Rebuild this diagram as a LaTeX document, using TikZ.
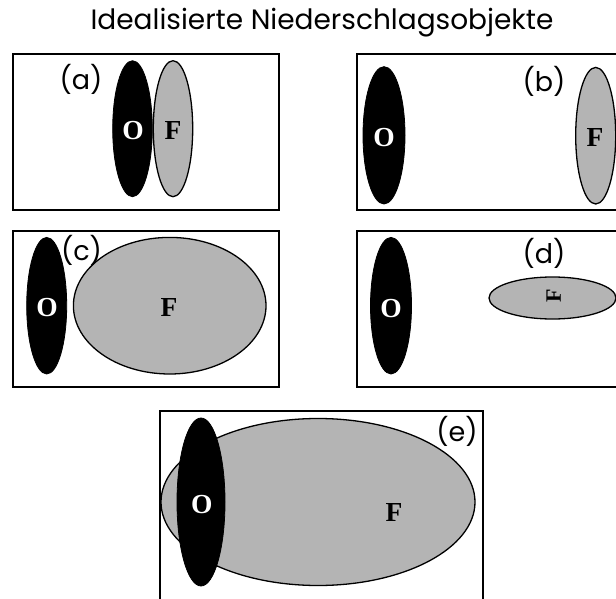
\documentclass[tikz,border=0pt]{standalone}
\usepackage{fontspec}
\setmainfont{Liberation Serif}
\newfontfamily\geo{Poppins}
\definecolor{fgray}{RGB}{180,180,180}
\begin{document}
\begin{tikzpicture}[x=1pt,y=-1pt,
  panel/.style={draw=black,line width=1.6pt},
  oshape/.style={fill=black,draw=black,line width=0.8pt},
  fshape/.style={fill=fgray,draw=black,line width=1.3pt},
  olab/.style={anchor=base,inner sep=0pt,text=white,font=\fontsize{27.5}{27.5}\selectfont\bfseries},
  flab/.style={anchor=base,inner sep=0pt,text=black,font=\fontsize{27.5}{27.5}\selectfont\bfseries},
  plab/.style={anchor=base,inner sep=0pt,font=\geo\fontsize{27}{27}\selectfont},
  ttl/.style={anchor=base,inner sep=0pt,font=\geo\fontsize{28}{28}\selectfont}]
\useasboundingbox (0,0) rectangle (616,599);
\clip (0,0) rectangle (616,599);
\fill[white] (0,0) rectangle (616,599);
\node[ttl] (title) at (322,30) {Idealisierte Niederschlagsobjekte};
% panel a
\draw[panel] (13,54) rectangle (279,210);
\draw[oshape] (132.5,128.7) ellipse [x radius=19.8,y radius=68];
\draw[fshape] (173,128.7) ellipse [x radius=19.7,y radius=68];
\node[plab] (la) at (81,90) {(a)};
\node[olab] (aO) at (133,140) {O};
\node[flab] (aF) at (173,140) {F};
% panel b
\draw[panel] (357,54) rectangle (622,210);
\draw[oshape] (384,135.3) ellipse [x radius=21,y radius=68.7];
\draw[fshape] (595.7,135.7) ellipse [x radius=20,y radius=68.3];
\node[plab] (lb) at (544,91.7) {(b)};
\node[olab] (bO) at (384,146.5) {O};
\node[flab] (bF) at (595,146.5) {F};
% panel c
\draw[panel] (13,231) rectangle (279,387);
\draw[oshape] (46.7,305.7) ellipse [x radius=20,y radius=68.3];
\draw[fshape] (169.7,305.7) ellipse [x radius=96.3,y radius=68.3];
\node[plab] (lc) at (81.5,260) {(c)};
\node[olab] (cO) at (47,316) {O};
\node[flab] (cF) at (169,316.5) {F};
% panel d
\draw[panel] (357,231) rectangle (622,387);
\draw[oshape] (391,305.7) ellipse [x radius=20.5,y radius=68.3];
\draw[fshape] (552.5,298) ellipse [x radius=63.5,y radius=21];
\node[plab] (ld) at (544,263) {(d)};
\node[olab] (dO) at (391,317) {O};
\node[inner sep=0pt,rotate=90,font=\fontsize{22}{22}\selectfont\bfseries] (dF) at (553.7,296) {F};
% panel e
\draw[panel] (160,411) rectangle (483,605);
\draw[fshape] (318,502) ellipse [x radius=157,y radius=83.5];
\draw[oshape] (201,502) ellipse [x radius=24,y radius=84];
\node[plab] (le) at (457,441.7) {(e)};
\node[olab] (eO) at (201.7,513) {O};
\node[flab] (eF) at (394,521.7) {F};
\end{tikzpicture}
\end{document}
